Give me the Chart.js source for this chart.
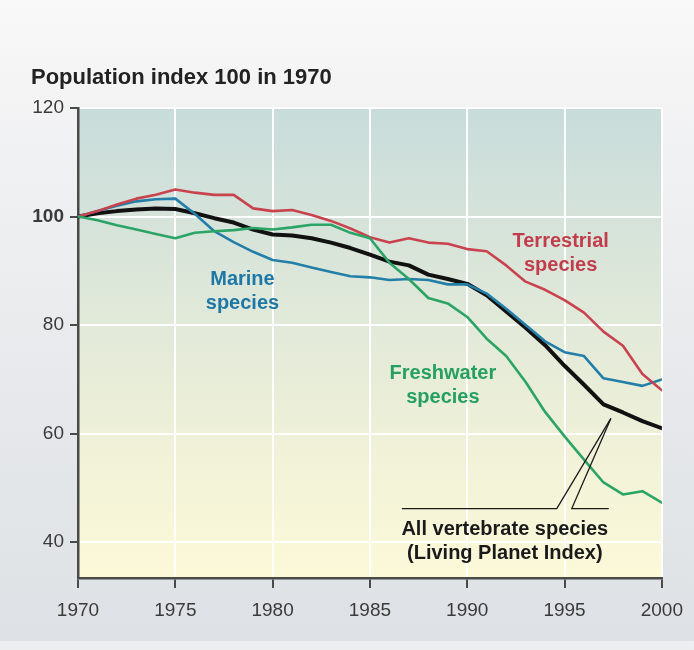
<!DOCTYPE html>
<html>
<head>
<meta charset="utf-8">
<script src="https://cdn.jsdelivr.net/npm/chart.js@4"></script>
<style>
  html, body { margin: 0; padding: 0; background: #e6e8eb; }
  #wrap { width: 694px; height: 650px; }
</style>
</head>
<body>
<div id="wrap"><canvas id="lpiChart" width="694" height="650"></canvas></div>
<script>
// values, index 100 in 1970
const years = [1970, 1971, 1972, 1973, 1974, 1975, 1976, 1977, 1978, 1979,
               1980, 1981, 1982, 1983, 1984, 1985, 1986, 1987, 1988, 1989,
               1990, 1991, 1992, 1993, 1994, 1995, 1996, 1997, 1998, 1999, 2000];
const terrestrial = [100, 101, 102.2, 103.3, 104, 105, 104.4, 104, 104, 101.5,
                     101, 101.2, 100.3, 99.2, 97.8, 96.2, 95.2, 96, 95.2, 95,
                     94, 93.6, 91, 88, 86.5, 84.6, 82.3, 78.8, 76.2, 71, 68];
const marine = [100, 101, 102, 102.8, 103.2, 103.3, 100.5, 97.3, 95.3, 93.5,
                92, 91.5, 90.6, 89.8, 89, 88.8, 88.3, 88.5, 88.3, 87.5,
                87.5, 85.8, 83, 80, 77, 75, 74.3, 70.2, 69.5, 68.8, 70];
const freshwater = [100, 99.3, 98.4, 97.6, 96.8, 96, 97, 97.3, 97.5, 97.9,
                    97.6, 98, 98.5, 98.5, 97, 96, 91.5, 88.5, 85, 84,
                    81.5, 77.5, 74.3, 69.5, 64, 59.5, 55.2, 51, 48.8, 49.4, 47.3];
const allSpecies = [100, 100.6, 101, 101.3, 101.5, 101.4, 100.6, 99.7, 98.9, 97.6,
                    96.7, 96.5, 96, 95.2, 94.2, 93, 91.7, 91, 89.3, 88.5,
                    87.6, 85.5, 82.5, 79.5, 76.3, 72.5, 69, 65.4, 63.9, 62.3, 61];
const yTicks = [40, 60, 80, 100, 120];
const xTicks = [1970, 1975, 1980, 1985, 1990, 1995, 2000];

const titleText = 'Population index 100 in 1970';

// series labels, anchored in data units (year, index)
const seriesLabels = [
    { lines: ['Marine', 'species'], year: 1978.45, value: 87.3, color: '#1e78a6' },
    { lines: ['Terrestrial', 'species'], year: 1994.8, value: 94.3, color: '#c23d4c' },
    { lines: ['Freshwater', 'species'], year: 1988.75, value: 70.0, color: '#25a062' },
    { lines: ['All vertebrate species', '(Living Planet Index)'], year: 1991.93, value: 41.4, color: '#1a1a1a' }
];

// leader lines from the "All vertebrate" label up to the black line
const leaders = [
    [[1986.64, 46.2], [1994.6, 46.2], [1997.38, 62.8]],
    [[1997.27, 46.2], [1995.37, 46.2], [1997.38, 62.8]]
];

function toPoints(values) {
    return years.map((y, i) => ({ x: y, y: values[i] }));
}

const backdrop = {
    id: 'backdrop',
    beforeDraw(chart) {
        const ctx = chart.ctx;
        const w = chart.width, h = chart.height;
        ctx.save();
        let g = ctx.createLinearGradient(0, 0, 0, h);
        g.addColorStop(0, '#f9f9f9');
        g.addColorStop(0.12, '#f4f4f5');
        g.addColorStop(0.5, '#e9ebed');
        g.addColorStop(1, '#dde1e5');
        ctx.fillStyle = g;
        ctx.fillRect(0, 0, w, h);
        ctx.fillStyle = '#eceef0';
        ctx.fillRect(0, 641, w, h - 641);

        const a = chart.chartArea;
        let pg = ctx.createLinearGradient(0, a.top, 0, a.bottom);
        pg.addColorStop(0, '#c8dcdb');
        pg.addColorStop(0.45, '#e1e9d9');
        pg.addColorStop(0.75, '#f1f2d8');
        pg.addColorStop(1, '#fcf9d8');
        ctx.fillStyle = pg;
        ctx.fillRect(a.left, a.top, a.right - a.left, a.bottom - a.top);
        ctx.restore();
    },
    afterDraw(chart) {
        const ctx = chart.ctx;
        const xs = chart.scales.x, ys = chart.scales.y;
        ctx.save();
        ctx.fillStyle = '#222';
        ctx.font = 'bold 22px "Liberation Sans", Arial, sans-serif';
        ctx.textAlign = 'left';
        ctx.textBaseline = 'alphabetic';
        ctx.fillText(titleText, 31, 84);

        ctx.strokeStyle = '#1a1a1a';
        ctx.lineWidth = 1.3;
        leaders.forEach(path => {
            ctx.beginPath();
            path.forEach((p, i) => {
                const px = xs.getPixelForValue(p[0]), py = ys.getPixelForValue(p[1]);
                if (i === 0) ctx.moveTo(px, py); else ctx.lineTo(px, py);
            });
            ctx.stroke();
        });

        ctx.font = 'bold 20px "Liberation Sans", Arial, sans-serif';
        ctx.textAlign = 'center';
        seriesLabels.forEach(lab => {
            const px = xs.getPixelForValue(lab.year), py = ys.getPixelForValue(lab.value);
            ctx.fillStyle = lab.color;
            lab.lines.forEach((t, i) => ctx.fillText(t, px, py + i * 24));
        });
        ctx.restore();
    }
};

const ctx = document.getElementById('lpiChart');
new Chart(ctx, {
    type: 'line',
    data: {
        datasets: [
            { label: 'Freshwater species', data: toPoints(freshwater), borderColor: '#2ba466', borderWidth: 2.6 },
            { label: 'Terrestrial species', data: toPoints(terrestrial), borderColor: '#c9434f', borderWidth: 2.6 },
            { label: 'Marine species', data: toPoints(marine), borderColor: '#237ea8', borderWidth: 2.6 },
            { label: 'All vertebrate species', data: toPoints(allSpecies), borderColor: '#111111', borderWidth: 4 }
        ]
    },
    options: {
        responsive: false,
        animation: false,
        layout: { padding: { left: 0, right: 32, top: 108, bottom: 0 } },
        elements: {
            point: { radius: 0, hoverRadius: 0 },
            line: { tension: 0, borderJoinStyle: 'round', borderCapStyle: 'round' }
        },
        plugins: {
            legend: { display: false },
            tooltip: { enabled: false }
        },
        scales: {
            x: {
                type: 'linear',
                min: 1970,
                max: 2000,
                afterBuildTicks: axis => { axis.ticks = xTicks.map(v => ({ value: v })); },
                afterFit: axis => { axis.height = 72; },
                border: { display: true, color: '#4a4a48', width: 2.5 },
                grid: { color: '#ffffff', lineWidth: 2, tickColor: '#4a4a48', tickLength: 10, tickWidth: 2 },
                ticks: {
                    color: '#3a3a3a',
                    padding: 11,
                    font: { family: '"Liberation Sans", Arial, sans-serif', size: 19 },
                    callback: v => String(v)
                }
            },
            y: {
                min: 33.4,
                max: 120,
                afterBuildTicks: axis => { axis.ticks = yTicks.map(v => ({ value: v })); },
                afterFit: axis => { axis.width = 78; },
                border: { display: true, color: '#4a4a48', width: 2.5 },
                grid: { color: '#ffffff', lineWidth: 2, tickColor: '#4a4a48', tickLength: 8, tickWidth: 2 },
                ticks: {
                    color: '#3a3a3a',
                    padding: 6,
                    font: ctx => ({
                        family: '"Liberation Sans", Arial, sans-serif',
                        size: 19,
                        weight: ctx.tick && ctx.tick.value === 100 ? 'bold' : 'normal'
                    }),
                    callback: v => String(v)
                }
            }
        }
    },
    plugins: [backdrop]
});
</script>
</body>
</html>
